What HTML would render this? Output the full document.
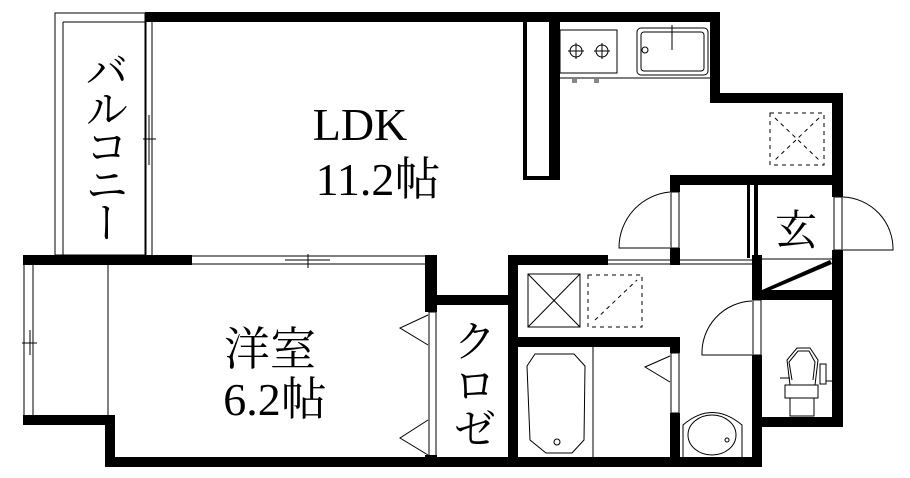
<!DOCTYPE html>
<html><head><meta charset="utf-8"><style>
html,body{margin:0;padding:0;background:#fff;width:910px;height:478px;overflow:hidden;position:relative}
svg{display:block}
text{font-family:"Liberation Serif","Noto Serif CJK JP",serif;fill:#000}
.v{position:absolute;writing-mode:vertical-rl;font-family:"Liberation Serif","Noto Serif CJK JP",serif;font-size:46px;line-height:46px;color:#000}
</style></head><body>
<svg width="910" height="478" viewBox="0 0 910 478" xmlns="http://www.w3.org/2000/svg">
<g fill="none" stroke="#000" stroke-width="1">
  <rect x="55" y="13" width="90" height="242"/>
  <line x1="63" y1="22" x2="63" y2="255"/>
  <line x1="63" y1="22" x2="145" y2="22"/>
  <line x1="146" y1="22" x2="146" y2="255"/><line x1="152" y1="22" x2="152" y2="255"/>
  <line x1="149" y1="115" x2="149" y2="165"/><line x1="143" y1="139" x2="156" y2="139"/>
  <line x1="192" y1="256" x2="425" y2="256"/><line x1="192" y1="264" x2="425" y2="264"/>
  <line x1="285" y1="260" x2="330" y2="260"/><line x1="308" y1="254" x2="308" y2="268"/>
  <line x1="24" y1="265" x2="24" y2="415"/><line x1="33" y1="265" x2="33" y2="415"/>
  <line x1="30" y1="330" x2="30" y2="355"/><line x1="22" y1="343" x2="37" y2="343"/>
  <line x1="108" y1="265" x2="108" y2="415"/>
  <rect x="429" y="312" width="7" height="148"/>
  <polyline points="428,315 400,328 428,345"/>
  <polyline points="428,420 400,438 428,455"/>
  <rect x="560" y="30" width="57" height="43"/>
  <circle cx="576" cy="51" r="6"/><circle cx="602" cy="51" r="6"/>
  <line x1="568" y1="51" x2="584" y2="51"/><line x1="576" y1="43" x2="576" y2="59"/>
  <line x1="594" y1="51" x2="610" y2="51"/><line x1="602" y1="43" x2="602" y2="59"/>
  <line x1="560" y1="78" x2="710" y2="78"/>
  <rect x="637" y="28" width="71" height="47" rx="4"/>
  <rect x="641" y="32" width="63" height="39" rx="3"/>
  <circle cx="645" cy="50" r="3"/>
  <line x1="672" y1="25" x2="672" y2="50"/>
  <g stroke-dasharray="4,4">
    <rect x="770" y="113" width="54" height="52"/>
    <line x1="775" y1="118" x2="819" y2="160"/><line x1="819" y1="118" x2="775" y2="160"/>
    <rect x="588" y="275" width="54" height="52"/>
    <line x1="595" y1="320" x2="637" y2="280"/>
  </g>
  <path d="M670,192 A56,56 0 0 0 619,248 L670,248"/>
  <path d="M843,197 A52,52 0 0 1 893,250 L843,250"/>
  <path d="M752,301 A52,52 0 0 0 702,355 L752,355"/>
  <rect x="671" y="192" width="8" height="56"/>
  <rect x="834" y="197" width="8" height="53"/>
  <rect x="753" y="300" width="8" height="55"/>
  <rect x="528" y="274" width="52" height="53"/>
  <line x1="528" y1="274" x2="580" y2="327"/><line x1="580" y1="274" x2="528" y2="327"/>
  <line x1="608" y1="260" x2="752" y2="260"/><line x1="608" y1="264" x2="752" y2="264"/>
  <polygon points="535,354 574,354 585,366 584,440 572,453 546,453 530,440 527,366"/>
  <circle cx="557" cy="442" r="3"/>
  <line x1="593" y1="347" x2="593" y2="457"/>
  <rect x="671" y="353" width="8" height="60"/>
  <polyline points="670,356 645,367 670,382"/>
  <path d="M683,457 L683,425 Q712,400 742,425 L742,457"/>
  <ellipse cx="712" cy="435" rx="24" ry="20"/>
  <circle cx="727" cy="440" r="2"/>
  <line x1="762" y1="259" x2="832" y2="259"/>
  <path d="M790,385 L787,360 L797,348 L810,348 L818,360 L815,385 Z"/>
  <path d="M792,380 L789,362 L798,351 L809,351 L815,362 L813,380"/>
  <rect x="785" y="385" width="33" height="13"/>
  <rect x="790" y="398" width="24" height="18"/>
  <rect x="820" y="364" width="6" height="20"/>
  <line x1="780" y1="378" x2="790" y2="378"/>
  <line x1="826" y1="381" x2="832" y2="381"/>
</g>
<g fill="#000">
  <rect x="145" y="12" width="575" height="10"/>
  <rect x="710" y="12" width="10" height="91"/>
  <rect x="710" y="93" width="133" height="10"/>
  <rect x="832" y="93" width="11" height="104"/>
  <rect x="832" y="250" width="11" height="177"/>
  <rect x="762" y="417" width="81" height="10"/>
  <rect x="752" y="255" width="10" height="45"/>
  <rect x="752" y="355" width="10" height="112"/>
  <rect x="105" y="457" width="657" height="10"/>
  <rect x="105" y="415" width="10" height="52"/>
  <rect x="23" y="415" width="92" height="10"/>
  <rect x="23" y="255" width="169" height="10"/>
  <rect x="145" y="12" width="8" height="10"/>
  <rect x="425" y="255" width="12" height="57"/>
  <rect x="425" y="455" width="12" height="12"/>
  <rect x="437" y="295" width="75" height="10"/>
  <rect x="508" y="255" width="10" height="212"/>
  <rect x="508" y="255" width="100" height="10"/>
  <rect x="518" y="337" width="162" height="10"/>
  <rect x="670" y="337" width="10" height="16"/>
  <rect x="670" y="413" width="10" height="54"/>
  <rect x="670" y="175" width="173" height="10"/>
  <rect x="670" y="175" width="10" height="17"/>
  <rect x="670" y="248" width="10" height="17"/>
  <rect x="747" y="185" width="3" height="73"/>
  <rect x="754" y="185" width="4" height="73"/>
  <rect x="762" y="290" width="80" height="10"/>
  <polygon points="762,290 830,260 832,264 766,292"/>
  <rect x="523" y="22" width="4" height="158"/>
  <rect x="549" y="22" width="11" height="158"/>
  <rect x="523" y="176" width="37" height="4"/>
  <rect x="572" y="79" width="5" height="4" fill="#888"/>
  <rect x="594" y="79" width="5" height="4" fill="#888"/>
</g>
<text x="360" y="140" font-size="46" text-anchor="middle">LDK</text>
<text x="378" y="195" font-size="46" text-anchor="middle">11.2帖</text>
<text x="270" y="365" font-size="46" text-anchor="middle">洋室</text>
<text x="275" y="415" font-size="46" text-anchor="middle">6.2帖</text>
<text x="796" y="245" font-size="42" text-anchor="middle">玄</text>
</svg>
<div class="v" style="left:80px;top:48px;font-size:44px;line-height:44px;letter-spacing:-6px">バルコニー</div>
<div class="v" style="left:448px;top:318px;font-size:44px;line-height:44px">クロゼ</div>
</body></html>
